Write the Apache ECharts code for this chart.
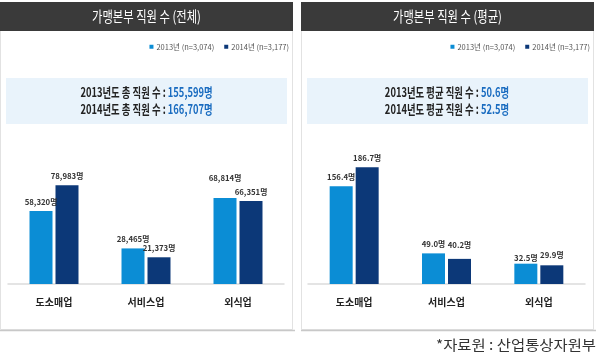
<!DOCTYPE html>
<html><head><meta charset="utf-8">
<script src="https://cdn.jsdelivr.net/npm/echarts@6/dist/echarts.min.js"></script>
<style>html,body{margin:0;padding:0;background:#fff}#c{width:600px;height:358px}</style>
</head><body><div id="c"></div>
<script>
const categories = ['도소매업', '서비스업', '외식업'];
const seriesNames = ['2013년 (n=3,074)', '2014년 (n=3,177)'];
const total2013 = [58320, 28465, 68814];
const total2014 = [78983, 21373, 66351];
const avg2013 = [156.4, 49.0, 32.5];
const avg2014 = [186.7, 40.2, 29.9];
const titles = ['가맹본부 직원 수 (전체)', '가맹본부 직원 수 (평균)'];
const summaryTotal = [['2013년도 총 직원 수 : ', '155,599명'], ['2014년도 총 직원 수 : ', '166,707명']];
const summaryAvg = [['2013년도 평균 직원 수 : ', '50.6명'], ['2014년도 평균 직원 수 : ', '52.5명']];
const sourceText = '*자료원 : 산업통상자원부';

const LIGHT = '#0b8dd5', DARK = '#0c3878';
const FONT = '"Noto Sans CJK KR", "Noto Sans", sans-serif';
const chart = echarts.init(document.getElementById('c'), null, {renderer: 'canvas'});

const fmtTotal = p => p.value.toLocaleString('en-US') + '명';
const fmtAvg = p => p.value.toFixed(1) + '명';
const labelBase = (fmt) => ({show: true, position: 'top', distance: 5, fontFamily: FONT, fontWeight: 'bold', fontSize: 7.8, color: '#333', formatter: fmt});

function items(arr, offsets) {
  return arr.map((v, i) => offsets && offsets[i] ? {value: v, label: {offset: offsets[i]}} : v);
}

function panel(x0, w) {
  return [
    {type: 'rect', shape: {x: x0 + 0.5, y: 30.5, width: w - 1, height: 299}, style: {fill: '#fff', stroke: '#e2e2e2', lineWidth: 1}, z: -10},
    {type: 'rect', shape: {x: x0, y: 2, width: w, height: 29}, style: {fill: '#3a3a3a'}, z: -5},
    {type: 'line', shape: {x1: x0, y1: 330.5, x2: x0 + w + 2, y2: 330.5}, style: {stroke: '#c8c8c8', lineWidth: 1.5}, z: -4},
    {type: 'rect', shape: {x: x0 + 6, y: 78, width: w - 12, height: 46}, style: {fill: '#e9f3fb'}, z: -3}
  ];
}
function summaryText(cx, lines) {
  return lines.map((l, i) => ({
    type: 'text', x: cx, y: 92 + i * 17, scaleX: 0.72,
    style: {
      text: '{a|' + l[0] + '}{b|' + l[1] + '}', textAlign: 'center', textVerticalAlign: 'middle',
      rich: {
        a: {fontFamily: FONT, fontWeight: 'bold', fontSize: 13, fill: '#222', color: '#222'},
        b: {fontFamily: FONT, fontWeight: 'bold', fontSize: 13, fill: '#1a6cc0', color: '#1a6cc0'}
      }
    }
  }));
}
function titleText(cx, t) {
  return {type: 'text', x: cx, y: 16.5, scaleX: 0.78, style: {text: t, fill: '#fff', font: 'normal 14.5px ' + FONT, textAlign: 'center', textVerticalAlign: 'middle'}};
}

const graphic = [].concat(
  panel(0, 293), panel(301, 293),
  [titleText(146.5, titles[0]), titleText(447.5, titles[1])],
  summaryText(146.5, summaryTotal), summaryText(447, summaryAvg),
  [{type: 'text', x: 596, y: 345, scaleX: 1.1, style: {text: sourceText, fill: '#333', font: 'normal 14px ' + FONT, textAlign: 'right', textVerticalAlign: 'middle'}}]
);

const xAxisCommon = {
  type: 'category', data: categories,
  axisLine: {lineStyle: {color: '#dcdcdc', width: 1.5}},
  axisTick: {show: false},
  axisLabel: {fontFamily: FONT, fontWeight: 'bold', fontSize: 10, color: '#222', margin: 13}
};
const yAxisCommon = {type: 'value', min: 0, show: false, splitLine: {show: false}};

const legendCommon = {
  orient: 'horizontal', top: 43, padding: 0, itemWidth: 4, itemHeight: 4, itemGap: 10, icon: 'rect',
  textStyle: {fontFamily: FONT, fontSize: 7.5, color: '#555', padding: [0, 0, 0, -2]}, selectedMode: false,
  data: seriesNames
};

chart.setOption({
  animation: false,
  backgroundColor: '#fff',
  graphic: graphic,
  legend: [
    Object.assign({}, legendCommon, {right: 311}),
    Object.assign({}, legendCommon, {right: 10})
  ],
  grid: [
    {left: 8, width: 276, top: 159, height: 125},
    {left: 308, width: 277, top: 159, height: 125}
  ],
  xAxis: [Object.assign({gridIndex: 0}, xAxisCommon), Object.assign({gridIndex: 1}, xAxisCommon)],
  yAxis: [Object.assign({gridIndex: 0, max: 100000}, yAxisCommon), Object.assign({gridIndex: 1, max: 200}, yAxisCommon)],
  series: [
    {name: seriesNames[0], type: 'bar', xAxisIndex: 0, yAxisIndex: 0, barWidth: 23, barGap: '13%', itemStyle: {color: LIGHT},
      label: labelBase(fmtTotal), data: items(total2013, [null, null, [0, -11]])},
    {name: seriesNames[1], type: 'bar', xAxisIndex: 0, yAxisIndex: 0, barWidth: 23, barGap: '13%', itemStyle: {color: DARK},
      label: labelBase(fmtTotal), data: items(total2014)},
    {name: seriesNames[0], type: 'bar', xAxisIndex: 1, yAxisIndex: 1, barWidth: 23, barGap: '13%', itemStyle: {color: LIGHT},
      label: labelBase(fmtAvg), data: items(avg2013, [null, null, [0, 3]])},
    {name: seriesNames[1], type: 'bar', xAxisIndex: 1, yAxisIndex: 1, barWidth: 23, barGap: '13%', itemStyle: {color: DARK},
      label: labelBase(fmtAvg), data: items(avg2014, [null, [0, -5], [0, -1]])}
  ]
});
</script></body></html>
